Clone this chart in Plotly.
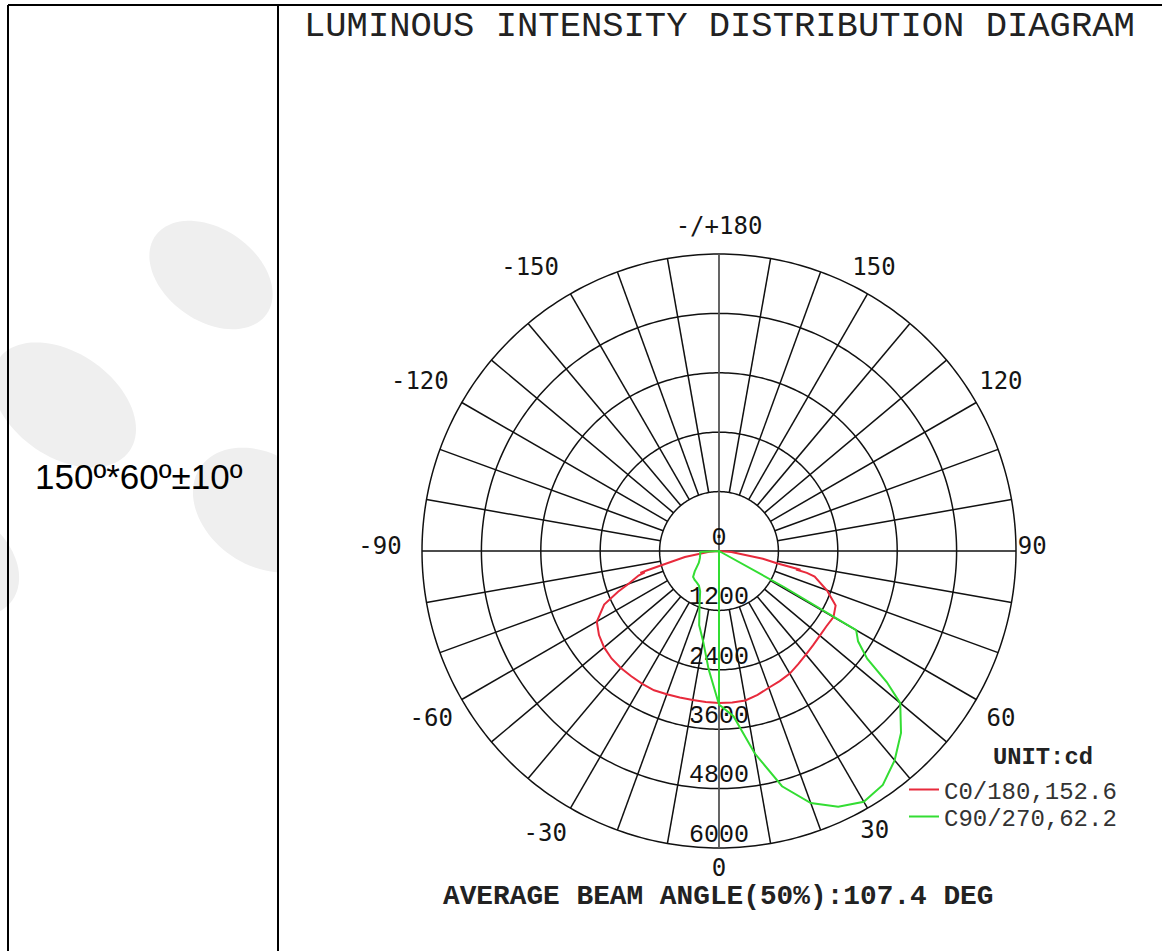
import numpy as np
import plotly.graph_objects as go

# ---------------- data ----------------
ring_values = [1200, 2400, 3600, 4800, 6000]
ring_label_r = [0, 1200, 2400, 3600, 4800, 6000]
ring_label_text = ["0", "1200", "2400", "3600", "4800", "6000"]
spoke_angles = [a for a in range(-170, 180, 10) if a not in (0, 90, -90)]
axis_angles = [0, 180, 90, -90]

angle_tick_text = ["-/+180", "150", "120", "90", "60", "30", "0",
                   "-30", "-60", "-90", "-120", "-150"]
# where each angle label sits (angle, radius in cd units)
angle_label_theta = [180, 151.2, 120.8, 90.5, 59.1, 29.0, 0,
                     -31.5, -59.6, -90.5, -119.3, -146.2]
angle_label_r = [6525, 6500, 6630, 6330, 6640, 6490, 6440,
                 6720, 6740, 6850, 6930, 6860]

# C0/180 plane (red)
c0_theta = [-90, -85, -80, -75, -74.5, -74, -73, -70, -68, -65, -60, -55, -50,
            -45, -40, -35, -30, -25, -20, -15, -10, -5, 0, 5, 10, 15, 20, 25,
            30, 35, 40, 45, 50, 55, 60, 65, 70, 75, 76, 76.5, 77, 78, 80, 85, 90]
c0_r = [0, 200, 700, 1500, 1650, 1560, 1700, 1950, 2200, 2560, 2850, 2960, 3030,
        3070, 3085, 3090, 3100, 3105, 3080, 3065, 3056, 3062, 3070, 3070, 3065,
        3010, 2940, 2900, 2860, 2790, 2730, 2690, 2660, 2650, 2670, 2600, 2320,
        2000, 1830, 1600, 1690, 1194, 900, 250, 0]

# C90/270 plane (green): C270 half then C90 half
c270_theta = [0, -5, -10, -15, -20, -25, -30, -35, -40, -45, -50, -55, -60,
              -70, -80, -87, -90]
c270_r = [3100, 2400, 1850, 1550, 1150, 900, 810, 780, 765, 740, 640, 540, 470,
          410, 385, 380, 0]
c90_theta = [0, 5, 10, 15, 20, 25, 30, 35, 40, 45, 50, 52, 54, 57, 60, 61, 90]
c90_r = [3100, 3350, 4150, 4920, 5420, 5700, 5850, 5770, 5520, 5200, 4780,
         4300, 3700, 3350, 3200, 1500, 0]

legend_names = ["C0/180,152.6", "C90/270,62.2"]
title_text = "LUMINOUS INTENSITY DISTRIBUTION DIAGRAM"
left_text = "150º*60º±10º"
beam_text = "AVERAGE BEAM ANGLE(50%):107.4 DEG"
unit_text = "UNIT:cd"

RED = "#e82a3c"
GREEN = "#33dd33"
W, H = 1162, 951
R_MAX = 7000          # radial range so that labels fit inside the polar area
CX, CY, R6000 = 719, 551, 297   # page position of the diagram

fig = go.Figure()

# ---- grid: rings ----
circ = np.arange(0, 361, 1)
ring_t, ring_r = [], []
for v in ring_values:
    ring_t += list(circ) + [None]
    ring_r += [v] * len(circ) + [None]
fig.add_trace(go.Scatterpolar(theta=ring_t, r=ring_r, mode="lines",
                              line=dict(color="#111", width=1.5),
                              hoverinfo="skip", showlegend=False))
# ---- grid: spokes ----
sp_t, sp_r = [], []
for a in spoke_angles:
    sp_t += [a, a, None]
    sp_r += [ring_values[0], ring_values[-1], None]
fig.add_trace(go.Scatterpolar(theta=sp_t, r=sp_r, mode="lines",
                              line=dict(color="#111", width=1.5),
                              hoverinfo="skip", showlegend=False))
# ---- main axes (diameters) ----
fig.add_trace(go.Scatterpolar(theta=[axis_angles[2], axis_angles[3]],
                              r=[ring_values[-1]] * 2, mode="lines",
                              line=dict(color="#111", width=1.5),
                              hoverinfo="skip", showlegend=False))
fig.add_trace(go.Scatterpolar(theta=[axis_angles[0], axis_angles[1]],
                              r=[ring_values[-1]] * 2, mode="lines",
                              line=dict(color="#555", width=1.8),
                              hoverinfo="skip", showlegend=False))

# ---- ring labels ----
fig.add_trace(go.Scatterpolar(theta=[0] * len(ring_label_r), r=ring_label_r,
                              mode="text", text=ring_label_text,
                              textposition="top center",
                              textfont=dict(family="Liberation Mono", size=25,
                                            color="#111"),
                              hoverinfo="skip", showlegend=False))

# ---- curves ----
fig.add_trace(go.Scatterpolar(theta=c0_theta, r=c0_r, mode="lines",
                              name=legend_names[0], legend="legend",
                              line=dict(color=RED, width=2)))
fig.add_trace(go.Scatterpolar(theta=c270_theta + c90_theta, r=c270_r + c90_r,
                              mode="lines", name=legend_names[1],
                              legend="legend2",
                              line=dict(color=GREEN, width=2)))

# ---- angle labels ----
fig.add_trace(go.Scatterpolar(theta=angle_label_theta, r=angle_label_r,
                              mode="text", text=angle_tick_text,
                              textposition="middle center",
                              textfont=dict(family="DejaVu Sans Mono", size=24,
                                            color="#151515"),
                              hoverinfo="skip", showlegend=False))

rad_px = R6000 * R_MAX / ring_values[-1]
dom_x = [(CX - rad_px) / W, (CX + rad_px) / W]
dom_y = [1 - (CY + rad_px) / H, 1 - (CY - rad_px) / H]

def ellipse_path(cx, cy, a, b, rot_deg, xmax=None):
    t = np.linspace(0, 2 * np.pi, 90)
    ang = np.radians(rot_deg)
    x = cx + a * np.cos(t) * np.cos(ang) - b * np.sin(t) * np.sin(ang)
    y = cy + a * np.cos(t) * np.sin(ang) + b * np.sin(t) * np.cos(ang)
    if xmax is not None:
        x = np.minimum(x, xmax)
    pts = [f"{xx / W:.5f},{1 - yy / H:.5f}" for xx, yy in zip(x, y)]
    return "M" + " L".join(pts) + " Z"

blobs = [
    (211, 275, 68, 46, 35, 277),
    (64, 405, 80, 52, 35, 277),
    (262, 510, 75, 55, 35, 277),
    (-45, 560, 70, 50, 35, 277),
]
shapes = []
for bx, by, ba, bb, br, xmx in blobs:
    shapes.append(dict(type="path", path=ellipse_path(bx, by, ba, bb, br, xmx),
                       xref="paper", yref="paper", fillcolor="#efefef",
                       line=dict(width=0), layer="below"))
# table borders
shapes += [
    dict(type="line", xref="paper", yref="paper", x0=8 / W, x1=1.0,
         y0=1 - 5 / H, y1=1 - 5 / H, line=dict(color="#000", width=2)),
    dict(type="line", xref="paper", yref="paper", x0=8 / W, x1=8 / W,
         y0=0, y1=1 - 5 / H, line=dict(color="#000", width=2)),
    dict(type="line", xref="paper", yref="paper", x0=278 / W, x1=278 / W,
         y0=0, y1=1 - 5 / H, line=dict(color="#000", width=2)),
]

annotations = [
    dict(text=title_text, x=719 / W, y=1 - 26 / H, xref="paper", yref="paper",
         xanchor="center", yanchor="middle", showarrow=False,
         font=dict(family="Liberation Mono", size=35.5, color="#222")),
    dict(text=left_text, x=139 / W, y=1 - 476 / H, xref="paper", yref="paper",
         xanchor="center", yanchor="middle", showarrow=False,
         font=dict(family="Liberation Sans", size=35, color="#000")),
    dict(text="<b>" + beam_text + "</b>", x=718 / W, y=1 - 896 / H,
         xref="paper", yref="paper", xanchor="center", yanchor="middle",
         showarrow=False,
         font=dict(family="Liberation Mono", size=27.8, color="#222")),
    dict(text="<b>" + unit_text + "</b>", x=1043 / W, y=1 - 757 / H,
         xref="paper", yref="paper", xanchor="center", yanchor="middle",
         showarrow=False,
         font=dict(family="Liberation Mono", size=23.8, color="#222")),
]

leg_common = dict(xanchor="left", yanchor="middle", bgcolor="rgba(0,0,0,0)",
                  font=dict(family="Liberation Mono", size=24, color="#333"),
                  itemwidth=30)

fig.update_layout(
    width=W, height=H,
    margin=dict(l=0, r=0, t=0, b=0),
    paper_bgcolor="white", plot_bgcolor="white",
    polar=dict(
        domain=dict(x=dom_x, y=dom_y),
        bgcolor="rgba(0,0,0,0)",
        radialaxis=dict(range=[0, R_MAX], visible=False, showgrid=False),
        angularaxis=dict(rotation=-90, direction="counterclockwise",
                         visible=False, showgrid=False),
    ),
    showlegend=True,
    legend=dict(x=904 / W, y=1 - 790 / H, **leg_common),
    legend2=dict(x=904 / W, y=1 - 817 / H, **leg_common),
    shapes=shapes,
    annotations=annotations,
)

fig.write_html("out.html", config={"displayModeBar": False},
               post_script="document.body.style.margin='0';"
                           "document.documentElement.style.overflow='hidden';")
